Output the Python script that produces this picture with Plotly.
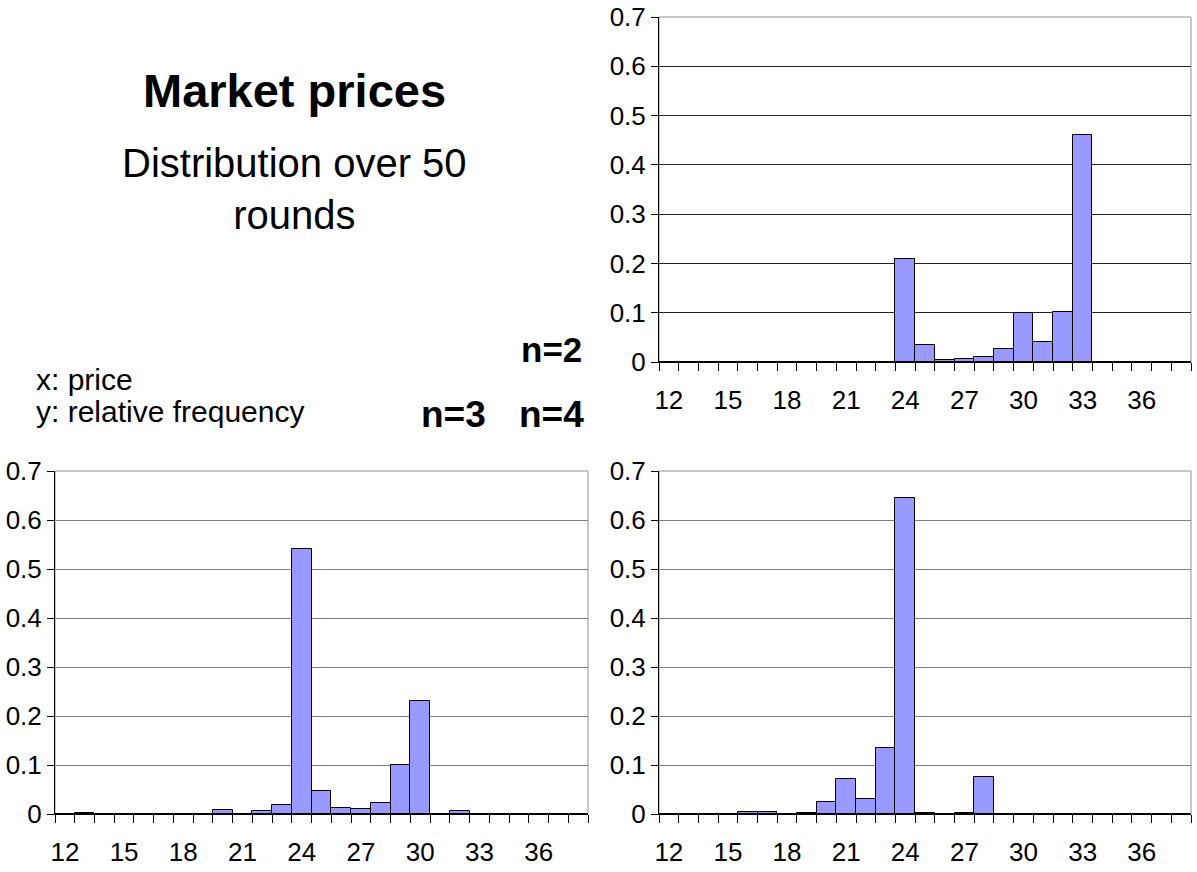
import plotly.graph_objects as go

W, H = 1197, 872

prices = list(range(12, 39))
tick_labels = [12, 15, 18, 21, 24, 27, 30, 33, 36]
y_ticks = [0, 0.1, 0.2, 0.3, 0.4, 0.5, 0.6, 0.7]

freq_n2 = [0, 0, 0, 0, 0, 0, 0, 0, 0, 0, 0, 0,
           0.21, 0.035, 0.005, 0.007, 0.01, 0.027, 0.1, 0.04, 0.102, 0.46,
           0, 0, 0, 0, 0]
freq_n3 = [0, 0.002, 0, 0, 0, 0, 0, 0, 0.008, 0, 0.006, 0.018,
           0.54, 0.046, 0.012, 0.01, 0.022, 0.1, 0.23, 0, 0.006,
           0, 0, 0, 0, 0, 0]
freq_n4 = [0, 0, 0, 0, 0.005, 0.005, 0, 0.002, 0.025, 0.072, 0.03, 0.135,
           0.645, 0.002, 0, 0.002, 0.075,
           0, 0, 0, 0, 0, 0, 0, 0, 0, 0]

FONT = "Liberation Sans, Arial, sans-serif"
BAR_COLOR = "#9999FF"


def px_x(x):
    return x / W


def px_y(y):
    return 1 - y / H


panels = [
    # (values, xaxis id, yaxis id, x-domain px, y-domain px, grid colour)
    (freq_n2, "x", "y", (659, 1191), (362, 17), "#222222"),
    (freq_n3, "x2", "y2", (55, 588), (814, 471), "#808080"),
    (freq_n4, "x3", "y3", (659, 1191), (814, 471), "#808080"),
]

fig = go.Figure()
layout = {}
shapes = []
for vals, xa, ya, (x0, x1), (yb, yt), gcol in panels:
    fig.add_trace(go.Bar(
        x=prices, y=vals, xaxis=xa, yaxis=ya, width=1,
        marker=dict(color=BAR_COLOR, line=dict(color="black", width=1)),
        showlegend=False, hoverinfo="x+y",
    ))
    xkey = "xaxis" + xa[1:]
    ykey = "yaxis" + ya[1:]
    layout[xkey] = dict(
        domain=[px_x(x0), px_x(x1)], anchor=ya, range=[11.5, 38.5],
        tickmode="array", tickvals=tick_labels,
        ticktext=[str(t) for t in tick_labels],
        ticks="", showgrid=False, zeroline=False, automargin=False,
        showline=True, linecolor="black", linewidth=1,
        ticklabelstandoff=15,
        tickfont=dict(family=FONT, size=26, color="black"),
        minor=dict(tick0=11.5, dtick=1, ticks="outside", ticklen=8,
                   tickcolor="black", tickwidth=1, showgrid=False),
        fixedrange=True,
    )
    layout[ykey] = dict(
        domain=[px_y(yb), px_y(yt)], anchor=xa, range=[0, 0.7],
        tickmode="array", tickvals=y_ticks,
        ticktext=["0", "0.1", "0.2", "0.3", "0.4", "0.5", "0.6", "0.7"],
        ticks="outside", ticklen=7, tickcolor="black", automargin=False,
        showgrid=True, gridcolor=gcol, gridwidth=1, zeroline=False,
        showline=True, linecolor="black", linewidth=1,
        tickfont=dict(family=FONT, size=26, color="black"),
        fixedrange=True,
    )
    shapes.append(dict(
        type="rect", xref=xa + " domain", yref=ya + " domain",
        x0=0, x1=1, y0=0, y1=1, line=dict(color="#909090", width=1),
        layer="below",
    ))


def ann(text, x, y, size, bold=False, xanchor="center", align="center"):
    return dict(
        text=("<b>%s</b>" % text) if bold else text,
        x=px_x(x), y=px_y(y), xref="paper", yref="paper",
        xanchor=xanchor, yanchor="middle", align=align, showarrow=False,
        font=dict(family=FONT, size=size, color="black"),
    )


annotations = [
    ann("Market prices", 294, 90, 47, bold=True),
    ann("Distribution over 50<br>rounds", 294, 189, 40),
    ann("n=2", 584, 349, 35, bold=True, xanchor="right"),
    ann("x: price", 34, 379, 30, xanchor="left"),
    ann("y: relative frequency", 34, 412, 30, xanchor="left"),
    ann("n=3", 419, 414, 37, bold=True, xanchor="left"),
    ann("n=4", 586, 414, 37, bold=True, xanchor="right"),
]

fig.update_layout(
    width=W, height=H,
    margin=dict(l=0, r=0, t=0, b=0, autoexpand=False),
    paper_bgcolor="white", plot_bgcolor="white",
    bargap=0, barmode="overlay",
    font=dict(family=FONT, color="black"),
    shapes=shapes, annotations=annotations,
    **layout,
)

# Remove the default page margin so the figure fills the window exactly.
fig.write_html(
    "out.html",
    config={"displayModeBar": False},
    post_script="document.body.style.margin='0';"
                "document.body.style.overflow='hidden';",
)
